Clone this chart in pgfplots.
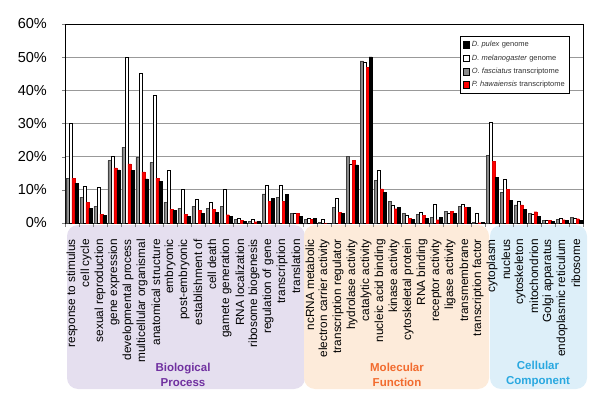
\documentclass[border=0pt]{standalone}
\usepackage{fontspec}
\setmainfont{Liberation Sans}
\usepackage{pgfplots}
\pgfplotsset{compat=1.18}
\usepackage{pgfplotstable}
\definecolor{bpbox}{HTML}{E5DFEF}
\definecolor{mfbox}{HTML}{FDEBDA}
\definecolor{ccbox}{HTML}{DDEFF9}
\definecolor{bptext}{HTML}{7030A0}
\definecolor{mftext}{HTML}{F26B2E}
\definecolor{cctext}{HTML}{29A8E0}
\definecolor{bargray}{HTML}{8A8A8A}

\pgfplotstableread{
x gray white red black
0 13.5 30.2 13.5 12.0
1 7.8 11.2 6.2 4.3
2 5.0 10.8 2.7 2.2
3 18.8 20.0 16.6 16.0
4 22.9 50.0 17.8 15.8
5 19.8 45.3 15.4 13.3
6 18.2 38.5 13.5 12.6
7 6.3 15.8 4.1 3.7
8 4.5 10.2 2.7 2.0
9 5.0 7.2 3.8 2.8
10 4.4 6.2 4.2 3.2
11 5.0 10.3 2.5 2.0
12 1.0 1.5 0.8 0.4
13 0.6 1.2 0.4 0.5
14 8.8 11.3 6.5 7.4
15 7.8 11.5 6.5 8.7
16 2.8 3.0 3.0 2.0
17 1.2 1.3 1.2 1.3
18 0.1 1.2 0.0 0.0
19 4.8 7.5 3.2 2.8
20 20.2 17.8 18.9 17.5
21 48.9 48.5 46.9 50.1
22 12.9 15.9 10.3 9.2
23 6.6 5.5 4.3 4.8
24 2.8 2.4 1.5 1.0
25 2.5 3.2 2.3 1.4
26 1.8 5.8 1.0 1.8
27 3.5 2.8 3.5 2.8
28 5.0 5.7 4.7 4.6
29 0.2 2.8 0.1 0.1
30 20.5 30.5 18.5 13.7
31 9.2 13.2 10.1 6.8
32 5.5 6.6 5.5 4.0
33 2.8 2.7 3.4 2.0
34 0.9 0.9 0.9 0.5
35 1.0 1.3 1.0 0.7
36 1.8 1.3 1.3 0.8
}\godata

\begin{document}
\begin{tikzpicture}
\path[use as bounding box] (-65bp,-187bp) rectangle (535bp,223bp);
% group background boxes
\fill[bpbox, rounded corners=11bp] (2bp,-2bp) rectangle (240bp,-166bp);
\fill[mfbox, rounded corners=11bp] (239bp,-2bp) rectangle (424bp,-166bp);
\fill[ccbox, rounded corners=11bp] (425bp,-2bp) rectangle (522bp,-166bp);
\node[align=center, text=bptext, font=\bfseries\fontsize{11.5bp}{15bp}\selectfont] at (118bp,-151.5bp) {Biological\\Process};
\node[align=center, text=mftext, font=\bfseries\fontsize{11.5bp}{15bp}\selectfont] at (332bp,-151.5bp) {Molecular\\Function};
\node[align=center, text=cctext, font=\bfseries\fontsize{11.5bp}{15bp}\selectfont] at (473bp,-151.5bp) {Cellular\\Component};
\begin{axis}[
  scale only axis,
  width=518bp, height=199bp,
  ybar, bar width=3bp,
  xmin=-0.5, xmax=36.5,
  ymin=0, ymax=60,
  xtick={0,...,36},
  xticklabels={response to stimulus, cell cycle, sexual reproduction, gene expression, developmental process, multicellular organismal, anatomical structure, embryonic, post-embryonic, establishment of, cell death, gamete generation, RNA localization, ribosome biogenesis, regulation of gene, transcription, translation, ncRNA metabolic, electron carrier activity, transcription regulator, hydrolase activity, catalytic activity, nucleic acid binding, kinase activity, cytoskeletal protein, RNA binding, receptor activity, ligase activity, transmembrane, transcription factor, cytoplasm, nucleus, cytoskeleton, mitochondrion, Golgi apparatus, endoplasmic reticulum, ribosome},
  minor xtick={-0.5,0.5,...,36.5},
  major x tick style={draw=none},
  minor tick length=4bp,
  major tick length=3bp,
  tick align=outside,
  xtick pos=bottom, ytick pos=left,
  xticklabel style={rotate=90, anchor=east, inner sep=0pt, font=\fontsize{11.8bp}{14bp}\selectfont},
  xticklabel shift=13bp,
  ytick={0,10,...,60},
  yticklabels={0\%,10\%,20\%,30\%,40\%,50\%,60\%},
  yticklabel style={inner sep=0pt, font=\fontsize{14.5bp}{17bp}\selectfont},
  yticklabel shift=15bp,
  ymajorgrids,
  major grid style={draw=black!40, line width=0.9bp},
  axis line style={black, line width=0.8bp},
  legend style={at={(0.975,0.94)}, anchor=north east, draw=black, line width=0.6bp,
    font=\fontsize{7.5bp}{9bp}\selectfont, row sep=2.5bp, inner sep=3bp, cells={anchor=west}, text=black!80},
  legend image code/.code={\draw[#1, draw=black, line width=0.5bp] (0bp,-3.3bp) rectangle (6.6bp,3.3bp);},
]
\addplot[forget plot, bar shift=-4.5bp, fill=bargray, draw=black!75, line width=0.5bp] table[x=x, y=gray] {\godata};
\addplot[forget plot, bar shift=-1.5bp, fill=white, draw=black, line width=0.5bp] table[x=x, y=white] {\godata};
\addplot[forget plot, bar shift=1.5bp, fill=red, draw=red!85!black, line width=0.3bp] table[x=x, y=red] {\godata};
\addplot[forget plot, bar shift=4.5bp, fill=black, draw=black, line width=0.5bp] table[x=x, y=black] {\godata};
\addlegendimage{fill=black}
\addlegendentry{\textit{D. pulex} genome}
\addlegendimage{fill=white}
\addlegendentry{\textit{D. melanogaster} genome}
\addlegendimage{fill=bargray}
\addlegendentry{\textit{O. fasciatus} transcriptome}
\addlegendimage{fill=red}
\addlegendentry{\textit{P. hawaiensis} transcriptome}
\end{axis}
\end{tikzpicture}
\end{document}
